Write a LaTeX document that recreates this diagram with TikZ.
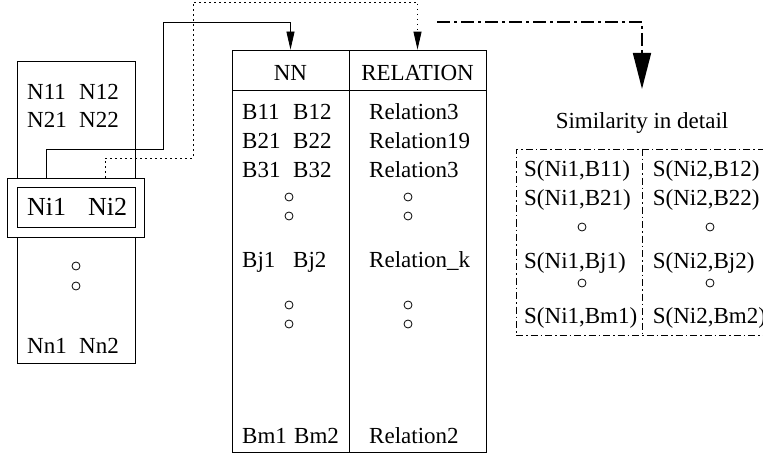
\documentclass[tikz,border=0pt]{standalone}
\usepackage{fontspec}
\setmainfont{Liberation Serif}
\usetikzlibrary{arrows.meta}
\tikzset{
 box/.style={draw, line width=0.8pt, inner sep=0pt},
 txt/.style={inner sep=0pt, anchor=base west, font=\fontsize{23}{27}\selectfont},
 ctxt/.style={inner sep=0pt, anchor=base, font=\fontsize{23}{27}\selectfont},
 bigtxt/.style={inner sep=0pt, anchor=base west, font=\fontsize{26}{30}\selectfont},
 dotc/.style={circle, draw, line width=0.8pt, inner sep=0pt, minimum size=8pt},
 sarr/.style={line width=0.8pt, -{Triangle[length=18pt,width=8pt]}},
 darr/.style={line width=0.9pt, dash pattern=on 1.2pt off 3.8pt, -{Triangle[length=18pt,width=8pt]}},
 ddarr/.style={line width=1.7pt, dash pattern=on 13pt off 4pt on 3pt off 4pt, -{Triangle[length=36pt,width=18pt]}},
 ddline/.style={line width=0.7pt, dash pattern=on 7pt off 3pt on 1.5pt off 3pt}
}
\begin{document}
\begin{tikzpicture}[x=1pt,y=-1pt]
\clip (0,0) rectangle (763,457);
% left box
\node[box, minimum width=118pt, minimum height=302pt] (lbox) at (76,212) {};
\node[box, fill=white, minimum width=137pt, minimum height=59pt] (niout) at (75.5,207.5) {};
\node[box, minimum width=118pt, minimum height=40pt] (niin) at (76,207) {};
\node[txt] (n11) at (27,100) {N11};
\node[txt] (n12) at (79,100) {N12};
\node[txt] (n21) at (27,128) {N21};
\node[txt] (n22) at (79,128) {N22};
\node[bigtxt] (ni1) at (27,216) {Ni1};
\node[bigtxt] (ni2) at (88,216) {Ni2};
\node[dotc] (lc1) at (76,266) {};
\node[dotc] (lc2) at (76,286) {};
\node[txt] (nn1) at (27,353) {Nn1};
\node[txt] (nn2) at (79,353) {Nn2};
% table
\node[box, minimum width=117pt, minimum height=40pt] (nnhead) at (290.5,70) {};
\node[box, minimum width=137pt, minimum height=40pt] (relhead) at (417.5,70) {};
\node[box, minimum width=117pt, minimum height=362pt] (nncol) at (290.5,271) {};
\node[box, minimum width=137pt, minimum height=362pt] (relcol) at (417.5,271) {};
\node[ctxt] (hnn) at (290.5,81) {NN};
\node[ctxt] (hrel) at (417.5,81) {RELATION};
\node[txt] (b11) at (242,120) {B11};
\node[txt] (b12) at (293,120) {B12};
\node[txt] (b21) at (242,149) {B21};
\node[txt] (b22) at (293,149) {B22};
\node[txt] (b31) at (242,178) {B31};
\node[txt] (b32) at (293,178) {B32};
\node[txt] (bj1) at (242,267) {Bj1};
\node[txt] (bj2) at (293,267) {Bj2};
\node[txt] (bm1) at (242,443) {Bm1};
\node[txt] (bm2) at (294,443) {Bm2};
\node[txt] (r1) at (369,120) {Relation3};
\node[txt] (r2) at (369,149) {Relation19};
\node[txt] (r3) at (369,178) {Relation3};
\node[txt] (rk) at (369,267) {Relation\_k};
\node[txt] (rm) at (369,443) {Relation2};
\node[dotc] (tc1) at (289,197) {};
\node[dotc] (tc2) at (289,216) {};
\node[dotc] (tc3) at (408,197) {};
\node[dotc] (tc4) at (408,216) {};
\node[dotc] (tc5) at (289,305) {};
\node[dotc] (tc6) at (289,324) {};
\node[dotc] (tc7) at (408,305) {};
\node[dotc] (tc8) at (408,324) {};
% similarity
\node[ctxt] (simt) at (642,129) {Similarity in detail};
\node[draw, ddline, inner sep=0pt, minimum width=314pt, minimum height=186pt] (simbox) at (673,242) {};
\coordinate (sd) at (642.7,0);
\draw[ddline] (simbox.north -| sd) -- (simbox.south -| sd);
\node[txt] (s11) at (524,176.5) {S(Ni1,B11)};
\node[txt] (s12) at (652.7,176.5) {S(Ni2,B12)};
\node[txt] (s21) at (524,206) {S(Ni1,B21)};
\node[txt] (s22) at (652.7,206) {S(Ni2,B22)};
\node[dotc] (sc1) at (582,227) {};
\node[dotc] (sc2) at (710,227) {};
\node[txt] (sj1) at (524,268) {S(Ni1,Bj1)};
\node[txt] (sj2) at (652.7,268) {S(Ni2,Bj2)};
\node[dotc] (sc3) at (582,283) {};
\node[dotc] (sc4) at (710,283) {};
\node[txt] (sm1) at (524,323) {S(Ni1,Bm1)};
\node[txt] (sm2) at (652.7,323) {S(Ni2,Bm2)};
% connectors
\coordinate (s1) at (46.7,0);
\coordinate (s2) at (163,149);
\coordinate (s3) at (0,22);
\draw[sarr] (niout.north -| s1) |- (s2) |- (nnhead.north |- s3) -- (nnhead.north);
\coordinate (d1) at (105,0);
\coordinate (d2) at (193,158);
\coordinate (d3) at (0,2);
\draw[darr] (niout.north -| d1) |- (d2) |- (relhead.north |- d3) -- (relhead.north);
\coordinate (e0) at (437,22);
\coordinate (e1) at (642,89);
\draw[ddarr] (e0) -| (e1);
\end{tikzpicture}
\end{document}
